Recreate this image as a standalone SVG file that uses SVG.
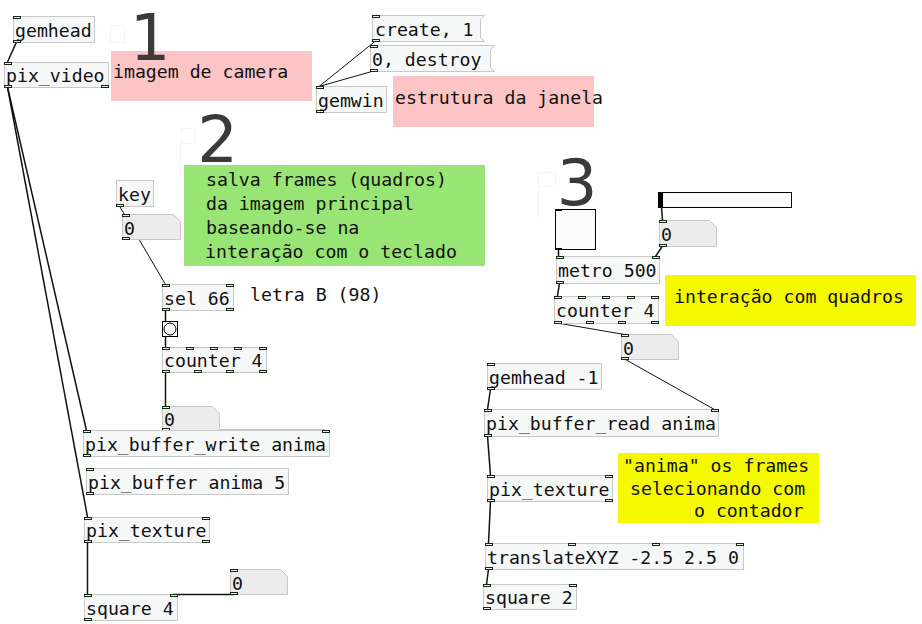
<svg xmlns="http://www.w3.org/2000/svg" width="922" height="624" viewBox="0 0 922 624">
<style>
  .obj { fill: #f6f8f8; stroke: #c8c8c8; stroke-width: 1; }
  .num { fill: #ececec; stroke: #c8c8c8; stroke-width: 1; }
  .gui { fill: #fcfcfc; stroke: #000; stroke-width: 1; }
  .io  { fill: #e8f0e8; stroke: #142814; stroke-width: 1; }
  .t   { font-family: "DejaVu Sans Mono", "Liberation Mono", monospace; font-size: 18.2px; fill: #111; }
  .big { font-family: "DejaVu Sans", "Liberation Sans", sans-serif; font-size: 64px; fill: #3a3a3a; text-anchor: middle; }
  .w   { stroke: #111; stroke-width: 1.5; fill: none; }
  .wt  { stroke: #111; stroke-width: 1; fill: none; }
  .faint { stroke: #f5f5f5; stroke-width: 1; fill: none; }
</style>

<rect width="922" height="624" fill="#ffffff"/>

<!-- comment backgrounds and texts -->
<g id="comments">
  <rect x="111" y="51" width="201" height="50" fill="#fcc4c4"/>
  <rect x="393" y="76" width="201" height="51" fill="#fcc4c4"/>
  <rect x="184" y="165" width="301" height="101" fill="#98e474"/>
  <rect x="665" y="275" width="251" height="51" fill="#f5f900"/>
  <rect x="618" y="453" width="201" height="70" fill="#f5f900"/>
  <path class="faint" d="M110.5 25.5h14v17h-14z M180.5 128.5h15v15h-15z M180.5 128.5v49 M538.5 172.5h17v14h-17z M538.5 172.5v48"/>
  <text class="big" x="150" y="60">1</text>
  <text class="big" x="217.5" y="162">2</text>
  <text class="big" x="577" y="205">3</text>
  <text class="t" x="113" y="78">imagem de camera</text>
  <text class="t" x="395" y="104">estrutura da janela</text>
  <text class="t" x="206" y="186">salva frames (quadros)</text>
  <text class="t" x="206" y="210">da imagem principal</text>
  <text class="t" x="206" y="234">baseando-se na</text>
  <text class="t" x="205" y="258">interação com o teclado</text>
  <text class="t" x="250" y="301">letra B (98)</text>
  <text class="t" x="674" y="303">interação com quadros</text>
  <text class="t" x="623" y="472">"anima" os frames</text>
  <text class="t" x="630" y="495">selecionando com</text>
  <text class="t" x="694" y="517">o contador</text>
</g>

<!-- connections -->
<g id="connections">
  <path class="w" d="M16.5 42L7.5 62"/>
  <path class="wt" d="M375.5 41L319 86.5"/>
  <path class="wt" d="M373.5 71L319 86.5"/>
  <path class="w" d="M7.5 87L86.5 430.5"/>
  <path class="w" d="M7.5 87L87.5 517"/>
  <path class="wt" d="M119.5 206L165.5 284.5"/>
  <path class="w" d="M165.5 310V321"/>
  <path class="w" d="M165.5 336V347"/>
  <path class="w" d="M165.5 372V406"/>
  <path class="w" d="M165.5 430.5H325.5"/>
  <path class="w" d="M87.5 542V594"/>
  <path class="w" d="M233.5 594.5H173.5"/>
  <path class="w" d="M661.5 207L662.5 220"/>
  <path class="w" d="M558.5 249V256"/>
  <path class="w" d="M662.5 246L655.5 256.5"/>
  <path class="w" d="M559.5 283L557.5 296"/>
  <path class="wt" d="M557.5 323L624.5 334.5"/>
  <path class="wt" d="M624.5 359L714.5 409.5"/>
  <path class="w" d="M490.5 389L487.5 409.5"/>
  <path class="w" d="M487.5 436L490.5 475.5"/>
  <path class="w" d="M490.5 501L488.5 543.5"/>
  <path class="w" d="M488.5 569L486.5 584.5"/>
</g>

<!-- section 1: window and camera -->
<g id="gemhead">
  <rect class="obj" x="13.5" y="16.5" width="81" height="26"/>
  <rect class="io" x="13.5" y="16.5" width="7" height="2"/>
  <rect class="io" x="13.5" y="40.5" width="7" height="2"/>
  <text class="t" x="15" y="37">gemhead</text>
</g>
<g id="pix_video">
  <rect class="obj" x="4.5" y="62.5" width="104" height="25"/>
  <rect class="io" x="4.5" y="62.5" width="7" height="2"/>
  <rect class="io" x="4.5" y="85.5" width="7" height="2"/>
  <rect class="io" x="101.5" y="85.5" width="7" height="2"/>
  <text class="t" x="6" y="82">pix_video</text>
</g>
<g id="msg_create">
  <path class="obj" d="M372.5 15.5H484.5L480.5 19.5V37.5L484.5 41.5H372.5Z"/>
  <rect class="io" x="372.5" y="15.5" width="7" height="2"/>
  <rect class="io" x="372.5" y="39.5" width="7" height="2"/>
  <text class="t" x="375" y="36">create, 1</text>
</g>
<g id="msg_destroy">
  <path class="obj" d="M370.5 45.5H494.5L490.5 49.5V67.5L494.5 71.5H370.5Z"/>
  <rect class="io" x="370.5" y="45.5" width="7" height="2"/>
  <rect class="io" x="370.5" y="69.5" width="7" height="2"/>
  <text class="t" x="372" y="66">0, destroy</text>
</g>
<g id="gemwin">
  <rect class="obj" x="316.5" y="86.5" width="70" height="26"/>
  <rect class="io" x="316.5" y="86.5" width="7" height="2"/>
  <rect class="io" x="316.5" y="110.5" width="7" height="2"/>
  <text class="t" x="318" y="107">gemwin</text>
</g>

<!-- section 2: frame capture -->
<g id="key">
  <rect class="obj" x="116.5" y="180.5" width="37" height="26"/>
  <rect class="io" x="116.5" y="204.5" width="7" height="2"/>
  <text class="t" x="118" y="201">key</text>
</g>
<g id="num_key">
  <path class="num" d="M122.5 214.5H173.5L180.5 221.5V239.5H122.5Z"/>
  <rect class="io" x="122.5" y="214.5" width="7" height="2"/>
  <rect class="io" x="122.5" y="237.5" width="7" height="2"/>
  <text class="t" x="124" y="235">0</text>
</g>
<g id="sel">
  <rect class="obj" x="162.5" y="284.5" width="71" height="26"/>
  <rect class="io" x="162.5" y="284.5" width="7" height="2"/>
  <rect class="io" x="226.5" y="284.5" width="7" height="2"/>
  <rect class="io" x="162.5" y="308.5" width="7" height="2"/>
  <rect class="io" x="226.5" y="308.5" width="7" height="2"/>
  <text class="t" x="164" y="305">sel 66</text>
</g>
<g id="bang">
  <rect class="gui" x="162.5" y="321.5" width="15" height="15" stroke-width="1.5"/>
  <circle cx="170" cy="329" r="6" fill="#fcfcfc" stroke="#000" stroke-width="1"/>
</g>
<g id="counter_a">
  <rect class="obj" x="162.5" y="347.5" width="104" height="25"/>
  <rect class="io" x="162.5" y="347.5" width="7" height="2"/>
  <rect class="io" x="186.5" y="347.5" width="7" height="2"/>
  <rect class="io" x="210.5" y="347.5" width="7" height="2"/>
  <rect class="io" x="234.5" y="347.5" width="7" height="2"/>
  <rect class="io" x="259.5" y="347.5" width="7" height="2"/>
  <rect class="io" x="162.5" y="370.5" width="7" height="2"/>
  <rect class="io" x="194.5" y="370.5" width="7" height="2"/>
  <rect class="io" x="226.5" y="370.5" width="7" height="2"/>
  <rect class="io" x="259.5" y="370.5" width="7" height="2"/>
  <text class="t" x="164" y="367">counter 4</text>
</g>
<g id="num_counter_a">
  <path class="num" d="M162.5 406.5H212.5L219.5 413.5V430.5H162.5Z"/>
  <rect class="io" x="162.5" y="406.5" width="7" height="2"/>
  <rect class="io" x="162.5" y="428.5" width="7" height="2"/>
  <text class="t" x="164" y="426">0</text>
</g>
<g id="pix_buffer_write">
  <rect class="obj" x="83.5" y="430.5" width="246" height="26"/>
  <rect class="io" x="83.5" y="430.5" width="7" height="2"/>
  <rect class="io" x="322.5" y="430.5" width="7" height="2"/>
  <rect class="io" x="83.5" y="454.5" width="7" height="2"/>
  <text class="t" x="85" y="451">pix_buffer_write anima</text>
</g>
<g id="pix_buffer">
  <rect class="obj" x="86.5" y="468.5" width="202" height="26"/>
  <rect class="io" x="86.5" y="468.5" width="7" height="2"/>
  <rect class="io" x="86.5" y="492.5" width="7" height="2"/>
  <text class="t" x="88" y="489">pix_buffer anima 5</text>
</g>
<g id="pix_texture_a">
  <rect class="obj" x="84.5" y="517.5" width="125" height="25"/>
  <rect class="io" x="84.5" y="517.5" width="7" height="2"/>
  <rect class="io" x="202.5" y="517.5" width="7" height="2"/>
  <rect class="io" x="84.5" y="540.5" width="7" height="2"/>
  <rect class="io" x="202.5" y="540.5" width="7" height="2"/>
  <text class="t" x="86" y="537">pix_texture</text>
</g>
<g id="num_square_a">
  <path class="num" d="M230.5 569.5H280.5L287.5 576.5V594.5H230.5Z"/>
  <rect class="io" x="230.5" y="569.5" width="7" height="2"/>
  <rect class="io" x="230.5" y="592.5" width="7" height="2"/>
  <text class="t" x="232" y="590">0</text>
</g>
<g id="square_a">
  <rect class="obj" x="84.5" y="594.5" width="93" height="26"/>
  <rect class="io" x="84.5" y="594.5" width="7" height="2"/>
  <rect class="io" x="170.5" y="594.5" width="7" height="2"/>
  <rect class="io" x="84.5" y="618.5" width="7" height="2"/>
  <text class="t" x="86" y="615">square 4</text>
</g>

<!-- section 3: playback -->
<g id="toggle">
  <rect class="gui" x="555.5" y="209.5" width="40" height="40"/>
  <rect x="555" y="209" width="7" height="2" fill="#000"/>
  <rect x="555" y="248" width="7" height="2" fill="#000"/>
</g>
<g id="hslider">
  <rect class="gui" x="658.5" y="192.5" width="133" height="15"/>
  <rect x="659" y="193" width="4" height="14" fill="#000"/>
</g>
<g id="num_slider">
  <path class="num" d="M659.5 220.5H709.5L716.5 227.5V246.5H659.5Z"/>
  <rect class="io" x="659.5" y="220.5" width="7" height="2"/>
  <rect class="io" x="659.5" y="244.5" width="7" height="2"/>
  <text class="t" x="661" y="241">0</text>
</g>
<g id="metro">
  <rect class="obj" x="556.5" y="256.5" width="103" height="27"/>
  <rect class="io" x="556.5" y="256.5" width="7" height="2"/>
  <rect class="io" x="652.5" y="256.5" width="7" height="2"/>
  <rect class="io" x="556.5" y="281.5" width="7" height="2"/>
  <text class="t" x="558" y="277">metro 500</text>
</g>
<g id="counter_b">
  <rect class="obj" x="554.5" y="296.5" width="104" height="27"/>
  <rect class="io" x="554.5" y="296.5" width="7" height="2"/>
  <rect class="io" x="578.5" y="296.5" width="7" height="2"/>
  <rect class="io" x="602.5" y="296.5" width="7" height="2"/>
  <rect class="io" x="627.5" y="296.5" width="7" height="2"/>
  <rect class="io" x="651.5" y="296.5" width="7" height="2"/>
  <rect class="io" x="554.5" y="321.5" width="7" height="2"/>
  <rect class="io" x="586.5" y="321.5" width="7" height="2"/>
  <rect class="io" x="618.5" y="321.5" width="7" height="2"/>
  <rect class="io" x="651.5" y="321.5" width="7" height="2"/>
  <text class="t" x="556" y="317">counter 4</text>
</g>
<g id="num_counter_b">
  <path class="num" d="M621.5 334.5H671.5L678.5 341.5V359.5H621.5Z"/>
  <rect class="io" x="621.5" y="334.5" width="7" height="2"/>
  <rect class="io" x="621.5" y="357.5" width="7" height="2"/>
  <text class="t" x="623" y="355">0</text>
</g>
<g id="gemhead_b">
  <rect class="obj" x="487.5" y="363.5" width="114" height="26"/>
  <rect class="io" x="487.5" y="363.5" width="7" height="2"/>
  <rect class="io" x="487.5" y="387.5" width="7" height="2"/>
  <text class="t" x="489" y="384">gemhead -1</text>
</g>
<g id="pix_buffer_read">
  <rect class="obj" x="484.5" y="409.5" width="234" height="27"/>
  <rect class="io" x="484.5" y="409.5" width="7" height="2"/>
  <rect class="io" x="711.5" y="409.5" width="7" height="2"/>
  <rect class="io" x="484.5" y="434.5" width="7" height="2"/>
  <text class="t" x="486" y="430">pix_buffer_read anima</text>
</g>
<g id="pix_texture_b">
  <rect class="obj" x="487.5" y="475.5" width="125" height="26"/>
  <rect class="io" x="487.5" y="475.5" width="7" height="2"/>
  <rect class="io" x="605.5" y="475.5" width="7" height="2"/>
  <rect class="io" x="487.5" y="499.5" width="7" height="2"/>
  <rect class="io" x="605.5" y="499.5" width="7" height="2"/>
  <text class="t" x="489" y="496">pix_texture</text>
</g>
<g id="translateXYZ">
  <rect class="obj" x="485.5" y="543.5" width="258" height="26"/>
  <rect class="io" x="485.5" y="543.5" width="7" height="2"/>
  <rect class="io" x="568.5" y="543.5" width="7" height="2"/>
  <rect class="io" x="652.5" y="543.5" width="7" height="2"/>
  <rect class="io" x="736.5" y="543.5" width="7" height="2"/>
  <rect class="io" x="485.5" y="567.5" width="7" height="2"/>
  <text class="t" x="487" y="564">translateXYZ -2.5 2.5 0</text>
</g>
<g id="square_b">
  <rect class="obj" x="483.5" y="584.5" width="93" height="25"/>
  <rect class="io" x="483.5" y="584.5" width="7" height="2"/>
  <rect class="io" x="569.5" y="584.5" width="7" height="2"/>
  <rect class="io" x="483.5" y="607.5" width="7" height="2"/>
  <text class="t" x="485" y="604">square 2</text>
</g>
</svg>
